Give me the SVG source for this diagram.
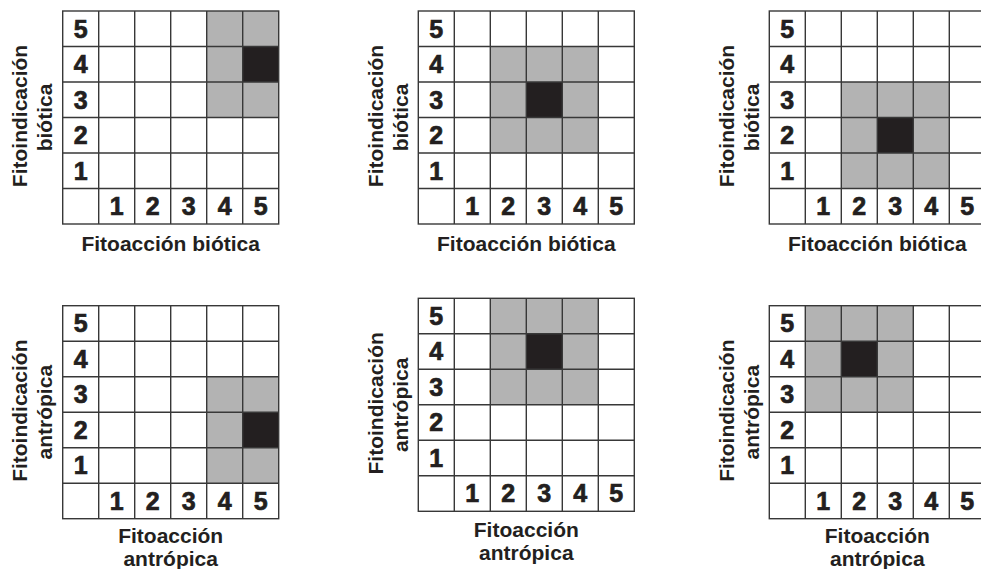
<svg xmlns="http://www.w3.org/2000/svg" xmlns:xlink="http://www.w3.org/1999/xlink" width="981" height="569" viewBox="0 0 981 569">
<style>
.t{font-family:"Liberation Sans",Arial,sans-serif;font-weight:bold;fill:#231f20;text-anchor:middle}
.d{font-size:25px;stroke:#231f20;stroke-width:0.7}
.l{font-size:21px}
.g{fill:#b3b3b3}
.k{fill:#231f20}
.ln{stroke:#383838;stroke-width:1.4;fill:none}
</style>
<defs>
<g id="grid">
<rect x="0" y="0" width="216" height="213" class="ln"/>
<path class="ln" d="M36 0V213M72 0V213M108 0V213M144 0V213M180 0V213M0 35.5H216M0 71H216M0 106.5H216M0 142H216M0 177.5H216"/>
</g>
<g id="nums">
<text class="t d" x="18" y="26.7">5</text>
<text class="t d" x="18" y="62.2">4</text>
<text class="t d" x="18" y="97.7">3</text>
<text class="t d" x="18" y="133.2">2</text>
<text class="t d" x="18" y="168.7">1</text>
<text class="t d" x="54" y="204.2">1</text>
<text class="t d" x="90" y="204.2">2</text>
<text class="t d" x="126" y="204.2">3</text>
<text class="t d" x="162" y="204.2">4</text>
<text class="t d" x="198" y="204.2">5</text>
</g>
</defs>
<rect width="981" height="569" fill="#fff"/>

<g id="panel1" transform="translate(62.7,11)">
<rect class="g" x="144" y="0" width="72" height="106.5"/>
<rect class="k" x="180" y="35.5" width="36" height="35.5"/>
<use xlink:href="#grid"/>
<use xlink:href="#nums"/>
<text class="t l" transform="translate(-35.5,105) rotate(-90)">Fitoindicación</text>
<text class="t l" transform="translate(-10.5,106.5) rotate(-90)">biótica</text>
<text class="t l" x="108" y="239.5">Fitoacción biótica</text>
</g>

<g id="panel2" transform="translate(418.3,11)">
<rect class="g" x="72" y="35.5" width="108" height="106.5"/>
<rect class="k" x="108" y="71" width="36" height="35.5"/>
<use xlink:href="#grid"/>
<use xlink:href="#nums"/>
<text class="t l" transform="translate(-35.5,105) rotate(-90)">Fitoindicación</text>
<text class="t l" transform="translate(-10.5,106.5) rotate(-90)">biótica</text>
<text class="t l" x="108" y="239.5">Fitoacción biótica</text>
</g>

<g id="panel3" transform="translate(769.3,11)">
<rect class="g" x="72" y="71" width="108" height="106.5"/>
<rect class="k" x="108" y="106.5" width="36" height="35.5"/>
<use xlink:href="#grid"/>
<use xlink:href="#nums"/>
<text class="t l" transform="translate(-35.5,105) rotate(-90)">Fitoindicación</text>
<text class="t l" transform="translate(-10.5,106.5) rotate(-90)">biótica</text>
<text class="t l" x="108" y="239.5">Fitoacción biótica</text>
</g>

<g id="panel4" transform="translate(62.7,305.7)">
<rect class="g" x="144" y="71" width="72" height="106.5"/>
<rect class="k" x="180" y="106.5" width="36" height="35.5"/>
<use xlink:href="#grid"/>
<use xlink:href="#nums"/>
<text class="t l" transform="translate(-35.5,105) rotate(-90)">Fitoindicación</text>
<text class="t l" transform="translate(-10.5,106.5) rotate(-90)">antrópica</text>
<text class="t l" x="108" y="237.8">Fitoacción</text>
<text class="t l" x="108" y="260.8">antrópica</text>
</g>

<g id="panel5" transform="translate(418.3,298.3)">
<rect class="g" x="72" y="0" width="108" height="106.5"/>
<rect class="k" x="108" y="35.5" width="36" height="35.5"/>
<use xlink:href="#grid"/>
<use xlink:href="#nums"/>
<text class="t l" transform="translate(-35.5,105) rotate(-90)">Fitoindicación</text>
<text class="t l" transform="translate(-10.5,106.5) rotate(-90)">antrópica</text>
<text class="t l" x="108" y="238.4">Fitoacción</text>
<text class="t l" x="108" y="261.4">antrópica</text>
</g>

<g id="panel6" transform="translate(769.3,305.7)">
<rect class="g" x="36" y="0" width="108" height="106.5"/>
<rect class="k" x="72" y="35.5" width="36" height="35.5"/>
<use xlink:href="#grid"/>
<use xlink:href="#nums"/>
<text class="t l" transform="translate(-35.5,105) rotate(-90)">Fitoindicación</text>
<text class="t l" transform="translate(-10.5,106.5) rotate(-90)">antrópica</text>
<text class="t l" x="108" y="237.8">Fitoacción</text>
<text class="t l" x="108" y="260.8">antrópica</text>
</g>

<g id="connectors"></g>
</svg>
